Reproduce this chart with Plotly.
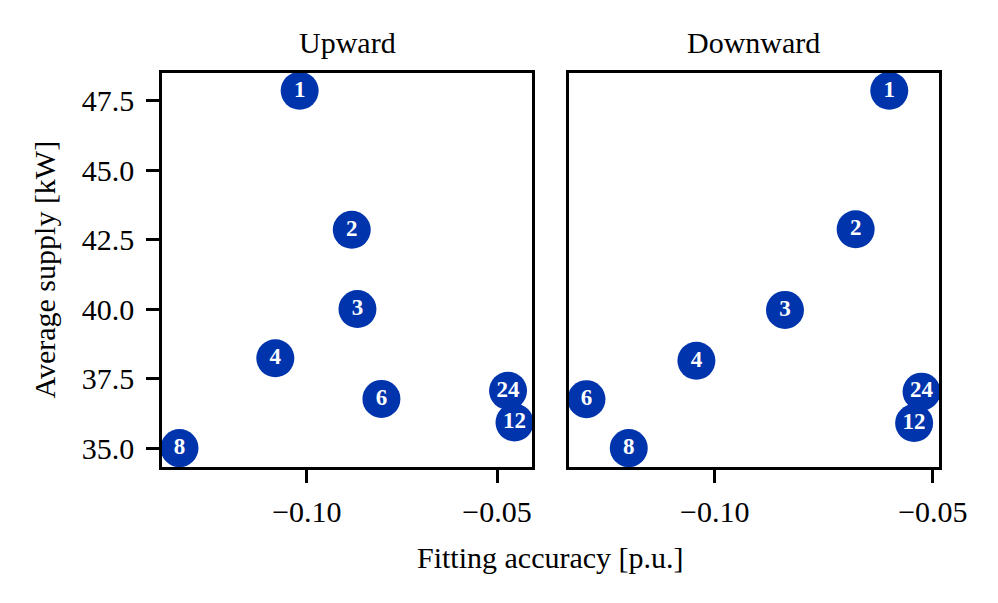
import plotly.graph_objects as go

labels = ["1", "2", "3", "4", "6", "8", "12", "24"]

up_accuracy = [-0.1019, -0.0882, -0.0867, -0.1083, -0.0804, -0.1335, -0.0454, -0.0471]
up_supply = [47.85, 42.85, 40.00, 38.23, 36.77, 35.00, 35.92, 37.06]

down_accuracy = [-0.0600, -0.0677, -0.0839, -0.1042, -0.1294, -0.1197, -0.0543, -0.0526]
down_supply = [47.85, 42.87, 39.97, 38.14, 36.76, 35.00, 35.90, 37.03]

x_tickvals = [-0.10, -0.05]
x_ticktext = ["\u22120.10", "\u22120.05"]
y_tickvals = [35.0, 37.5, 40.0, 42.5, 45.0, 47.5]
y_ticktext = ["35.0", "37.5", "40.0", "42.5", "45.0", "47.5"]

COLOR = "#0034ad"
FONT = "Liberation Serif"
FS = 30

fig = go.Figure()

for xs, ys, xa, ya in [(up_accuracy, up_supply, "x", "y"), (down_accuracy, down_supply, "x2", "y2")]:
    fig.add_trace(go.Scatter(
        x=xs, y=ys, text=labels, mode="markers+text",
        xaxis=xa, yaxis=ya,
        marker=dict(size=38, color=COLOR, line=dict(width=0)),
        textposition="middle center",
        textfont=dict(family=FONT, size=23, color="white", weight="bold"),
        showlegend=False, hoverinfo="skip",
    ))

axis_common = dict(
    showline=True, linecolor="black", linewidth=2.5, mirror=True,
    showgrid=False, zeroline=False,
    ticks="outside", ticklen=13, tickwidth=2.5, tickcolor="black",
    tickfont=dict(family=FONT, size=FS, color="black"),
)

fig.update_layout(
    width=998, height=603,
    margin=dict(l=154, r=67, t=65, b=144),
    paper_bgcolor="white", plot_bgcolor="white",
    xaxis=dict(domain=[0, 0.4762], range=[-0.1381, -0.0408],
               tickvals=x_tickvals, ticktext=x_ticktext, ticklabelstandoff=3, **axis_common),
    xaxis2=dict(domain=[0.5238, 1], range=[-0.1334, -0.0486],
                tickvals=x_tickvals, ticktext=x_ticktext, ticklabelstandoff=3, **axis_common),
    yaxis=dict(range=[34.32, 48.49], tickvals=y_tickvals, ticktext=y_ticktext,
               anchor="x", ticklabelstandoff=6, **axis_common),
    yaxis2=dict(range=[34.32, 48.49], anchor="x2", showticklabels=False,
                showline=True, linecolor="black", linewidth=2.5, mirror=True,
                showgrid=False, zeroline=False, ticks=""),
    annotations=[
        dict(text="Upward", x=0.2381, y=1.0, xref="paper", yref="paper",
             xanchor="center", yanchor="bottom", yshift=12, showarrow=False,
             font=dict(family=FONT, size=FS, color="black")),
        dict(text="Downward", x=0.7619, y=1.0, xref="paper", yref="paper",
             xanchor="center", yanchor="bottom", yshift=12, showarrow=False,
             font=dict(family=FONT, size=FS, color="black")),
        dict(text="Fitting accuracy [p.u.]", x=0.5, y=0, xref="paper", yref="paper",
             xanchor="center", yanchor="top", yshift=-72, showarrow=False,
             font=dict(family=FONT, size=FS, color="black")),
        dict(text="Average supply [kW]", x=0, y=0.5, xref="paper", yref="paper",
             xanchor="right", yanchor="middle", xshift=-100, textangle=-90, showarrow=False,
             font=dict(family=FONT, size=FS, color="black")),
    ],
)

fig.write_html("out.html")
